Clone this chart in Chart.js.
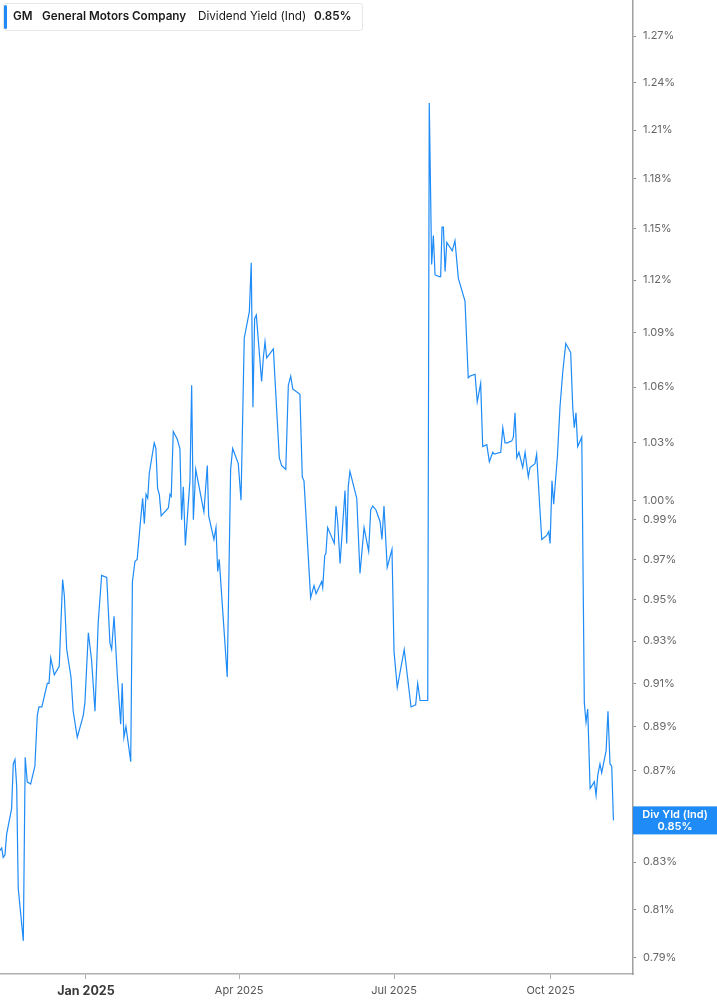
<!DOCTYPE html>
<html>
<head>
<meta charset="utf-8">
<script src="https://cdn.jsdelivr.net/npm/chart.js@4.4.1/dist/chart.umd.min.js"></script>
<style>
  html, body { margin: 0; padding: 0; background: #ffffff; }
  #wrap { position: relative; width: 717px; height: 1005px; }
  #c { position: absolute; left: 0; top: 0; }
  #legend { position: absolute; left: 3px; top: 3px; width: 358px; height: 26px; background: #fff;
    border: 1px solid #e6e6e6; border-radius: 3px; font-family: Inter, sans-serif; font-size: 11.7px; color: #1a1a1a; }
  #legend .bar { position: absolute; left: 0; top: 1px; width: 3px; height: 24px; background: #1e8bf7; border-radius: 2px; }
  #legend span.t { position: absolute; top: 5px; white-space: nowrap; }
  #legend .b { font-weight: 600; }
</style>
</head>
<body>
<div id="wrap">
  <canvas id="c" width="717" height="1005"></canvas>
  <div id="legend">
    <span class="bar"></span>
    <span class="t b" style="left:9px">GM</span>
    <span class="t b" style="left:38px">General Motors Company</span>
    <span class="t" style="left:194px">Dividend Yield (Ind)</span>
    <span class="t b" style="left:310px">0.85%</span>
  </div>
</div>
<script>
// Days since 1 Jan 2025
const days = [
  -50.5,-49.5,-48.6,-47.6,-46.6,-43.7,-42.7,-41.7,-40.7,-39.8,-36.8,-35.7,-34.5,-32.5,-30.0,-28.6,-27.6,-25.9,-22.7,-21.7,
  -20.7,-18.6,-15.7,-13.7,-12.7,-11.3,-8.8,-7.5,-5.1,-1.6,-0.6,1.4,3.3,5.3,7.2,9.2,12.2,14.1,15.1,16.5,
  18.4,20.4,21.3,22.3,23.5,26.3,27.3,
  28.8,30.1,31.7,33.3,34.3,35.3,36.3,37.2,40.1,41.1,42.1,43.1,44.2,48.4,49.4,50.1,51.3,53.6,55.2,56.2,
  57.2,58.4,61.1,62.1,63.1,64.5,69.3,71.3,72.1,75.2,76.4,77.4,78.3,83.0,85.0,86.2,89.5,91.1,93.0,96.0,
  97.1,98.1,99.1,100.1,103.2,104.2,105.2,106.2,110.1,113.6,115.0,117.4,118.9,120.3,121.5,125.7,127.1,128.1,
  132.0,134.0,135.2,138.5,139.1,140.3,141.0,142.0,145.9,146.9,147.9,149.3,152.2,153.2,154.1,155.1,159.1,161.0,
  163.4,166.1,167.3,168.5,170.4,172.8,173.9,175.1,177.0,179.8,181.0,182.9,187.0,191.0,193.7,194.9,196.3,197.9,
  200.8,201.7,203.1,204.1,205.1,207.6,208.4,209.2,210.0,211.0,212.0,215.2,216.8,218.8,222.7,224.6,225.6,
  228.6,229.9,231.9,233.1,235.5,237.0,239.0,239.9,243.7,244.9,246.2,247.6,250.2,251.1,252.1,253.1,254.4,256.6,
  258.0,259.9,260.9,263.8,264.8,266.4,267.8,270.7,271.9,272.7,273.8,274.8,277.0,278.5,280.1,281.9,284.8,286.0,
  286.9,287.9,288.9,291.3,292.8,293.8,294.8,296.2,298.7,299.7,300.7,302.0,303.0,305.6,306.7,307.9,308.9,309.9
];
// Dividend yield (%)
const yields = [
  0.835,0.836,0.832,0.833,0.842,0.853,0.873,0.875,0.863,0.819,0.797,0.876,0.865,0.864,0.872,0.895,0.899,0.899,0.910,0.910,
  0.922,0.914,0.918,0.960,0.952,0.926,0.913,0.897,0.885,0.895,0.901,0.934,0.921,0.897,0.939,0.962,0.961,0.929,0.926,0.942,
  0.914,0.891,0.910,0.885,0.890,0.874,0.959,
  0.969,0.970,0.986,1.001,0.988,1.003,1.001,1.014,1.030,1.027,1.006,1.003,0.992,0.996,1.003,1.002,1.036,1.032,1.027,0.990,
  1.007,0.977,1.010,1.061,0.990,1.016,0.994,1.018,0.992,0.980,0.986,0.964,0.970,0.913,1.016,1.027,1.019,1.000,1.087,1.102,
  1.130,1.049,1.098,1.100,1.063,1.076,1.085,1.076,1.081,1.022,1.018,1.016,1.061,1.066,1.059,1.056,1.012,1.010,
  0.951,0.957,0.953,0.959,0.956,0.972,0.973,0.986,0.978,0.997,0.989,0.968,1.005,0.978,1.007,1.015,1.001,0.963,
  0.986,0.974,0.995,0.997,0.995,0.989,0.980,0.997,0.966,0.975,0.925,0.908,0.926,0.899,0.900,0.910,0.902,0.902,
  0.902,1.227,1.129,1.146,1.123,1.122,1.122,1.151,1.151,1.125,1.142,1.137,1.143,1.121,1.108,1.065,1.066,
  1.067,1.052,1.062,1.028,1.029,1.020,1.025,1.024,1.025,1.038,1.030,1.030,1.031,1.033,1.046,1.022,1.025,1.017,
  1.025,1.012,1.017,1.019,1.024,1.000,0.980,0.982,0.984,0.978,1.010,0.998,1.023,1.049,1.068,1.084,1.079,1.049,
  1.038,1.046,1.028,1.033,0.901,0.892,0.898,0.862,0.865,0.859,0.868,0.873,0.869,0.879,0.897,0.873,0.872,0.848
];
const yTicks = [0.79,0.81,0.83,0.85,0.87,0.89,0.91,0.93,0.95,0.97,0.99,1.00,1.03,1.06,1.09,1.12,1.15,1.18,1.21,1.24,1.27];
const xTickDays = [0, 90, 181, 273];
const xTickLabels = ['Jan 2025', 'Apr 2025', 'Jul 2025', 'Oct 2025'];
const xMin = -50.5, xMax = 321.4;
const yMin = 0.7835, yMax = 1.2938;
const lineColor = '#1e8bf7';

Chart.defaults.font.family = 'Inter, sans-serif';

const endLabel = {
  id: 'endLabel',
  afterDraw(chart) {
    const ctx = chart.ctx;
    const ys = chart.scales.y;
    const last = yields[yields.length - 1];
    const yc = ys.getPixelForValue(last);
    const x0 = chart.chartArea.right;
    const w = chart.width - x0;
    ctx.save();
    ctx.fillStyle = lineColor;
    ctx.fillRect(x0, yc - 14, w, 28);
    ctx.fillStyle = '#ffffff';
    ctx.textAlign = 'center';
    ctx.textBaseline = 'middle';
    ctx.font = '600 11px Inter, sans-serif';
    ctx.fillText('Div Yld (Ind)', x0 + w / 2, yc - 6);
    ctx.fillText(last.toFixed(2) + '%', x0 + w / 2, yc + 6);
    ctx.restore();
  }
};

new Chart(document.getElementById('c'), {
  type: 'line',
  data: {
    datasets: [{
      data: days.map((d, i) => ({ x: d, y: yields[i] })),
      borderColor: lineColor,
      borderWidth: 1.2,
      pointRadius: 0,
      tension: 0,
      fill: false
    }]
  },
  options: {
    responsive: false,
    animation: false,
    devicePixelRatio: 1,
    layout: { padding: 0 },
    plugins: { legend: { display: false }, tooltip: { enabled: false }, title: { display: false } },
    scales: {
      x: {
        type: 'linear',
        position: 'bottom',
        min: xMin, max: xMax,
        afterBuildTicks(scale) { scale.ticks = xTickDays.map(v => ({ value: v })); },
        afterFit(scale) { scale.height = 31; scale.paddingLeft = 0; scale.paddingRight = 0; },
        grid: { display: true, drawOnChartArea: false, drawTicks: true, tickLength: 5, color: '#b0b0b0' },
        border: { display: true, color: '#b0b0b0', width: 1.5 },
        ticks: {
          autoSkip: false, maxRotation: 0, padding: 5,
          callback: (v, i) => xTickLabels[i],
          color: ctx => ctx.index === 0 ? '#3a3a3a' : '#555555',
          font: ctx => ctx.index === 0 ? { size: 12.5, weight: '700' } : { size: 11, weight: '400' }
        }
      },
      y: {
        type: 'logarithmic',
        position: 'right',
        min: yMin, max: yMax,
        afterBuildTicks(scale) { scale.ticks = yTicks.map(v => ({ value: v })); },
        afterFit(scale) { scale.width = 84; scale.paddingTop = 0; scale.paddingBottom = 0; },
        grid: { display: true, drawOnChartArea: false, drawTicks: true, tickLength: 3, color: '#888888' },
        border: { display: true, color: '#a0a0a0', width: 1.5 },
        ticks: {
          autoSkip: false, padding: 7,
          color: '#666666',
          font: { size: 11 },
          callback: v => Number(v).toFixed(2) + '%'
        }
      }
    }
  },
  plugins: [endLabel]
});
</script>
</body>
</html>
